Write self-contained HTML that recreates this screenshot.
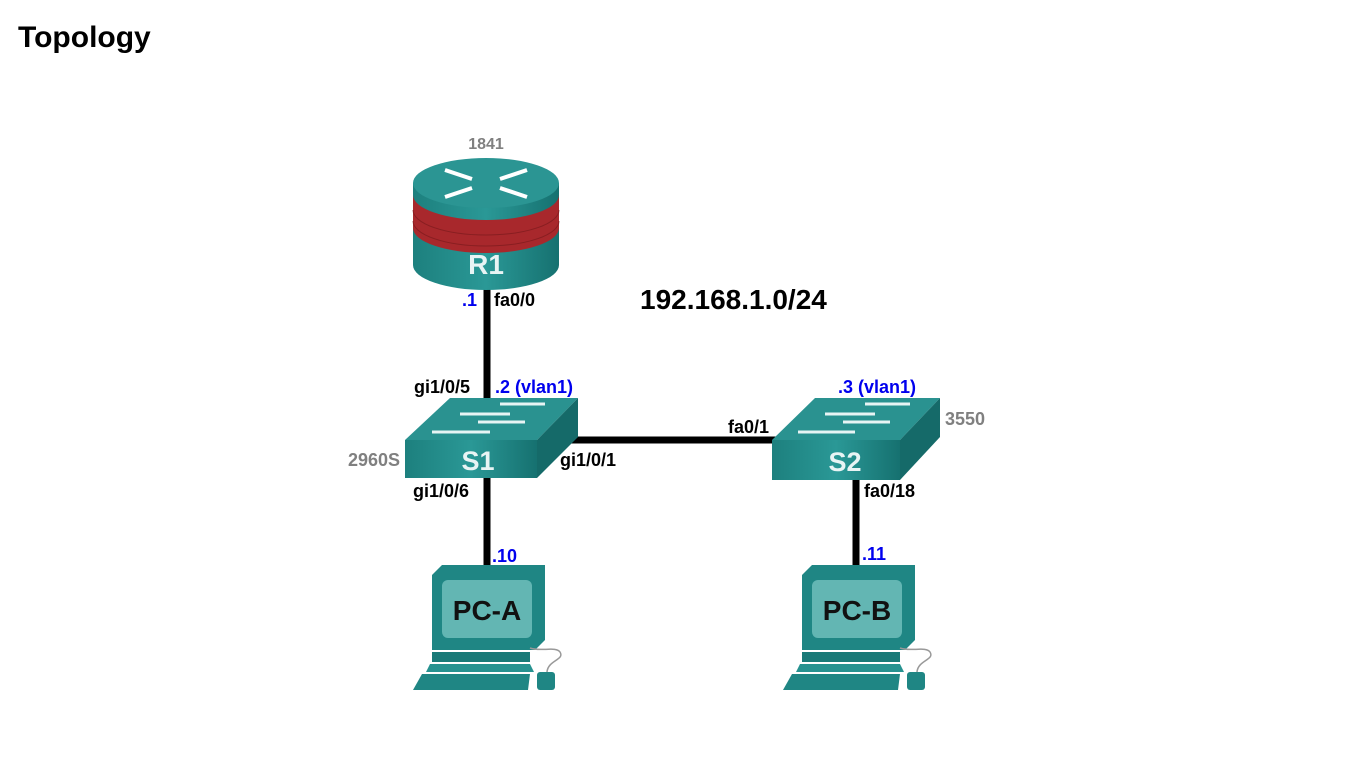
<!DOCTYPE html>
<html><head><meta charset="utf-8"><style>
body{margin:0;background:#fff;width:1359px;height:761px;overflow:hidden}
svg{position:absolute;left:0;top:0}
</style></head><body>
<svg width="1359" height="761" viewBox="0 0 1359 761" font-family="Liberation Sans, sans-serif" font-weight="bold">
<defs>
<linearGradient id="fg" x1="0" y1="0" x2="1" y2="0"><stop offset="0" stop-color="#1d807e"/><stop offset="0.5" stop-color="#2a9896"/><stop offset="1" stop-color="#167170"/></linearGradient>
</defs>
<text x="18" y="47" font-size="30" fill="#000">Topology</text>
<g stroke="#000" stroke-width="7">
<line x1="487" y1="285" x2="487" y2="405"/>
<line x1="487" y1="470" x2="487" y2="568"/>
<line x1="560" y1="440" x2="780" y2="440"/>
<line x1="856" y1="475" x2="856" y2="568"/>
</g>
<path d="M413 183 V265 A73 25 0 0 0 559 265 V183 Z" fill="url(#fg)"/>
<path d="M413 195 V228 A73 25 0 0 0 559 228 V195 A73 25 0 0 1 413 195Z" fill="#a8282c"/>
<g stroke="#7a1a1c" stroke-width="1" opacity="0.7">
<path d="M413 210 A73 25 0 0 0 559 210 M413 221 A73 25 0 0 0 559 221" fill="none"/>
</g>
<ellipse cx="486" cy="183" rx="73" ry="25" fill="#2b9593"/>
<g stroke="#fff" stroke-width="4" fill="#fff">
<line x1="445" y1="170" x2="472" y2="179"/><line x1="527" y1="170" x2="500" y2="179"/>
<line x1="445" y1="197" x2="472" y2="188"/><line x1="527" y1="197" x2="500" y2="188"/>
</g>
<text x="486" y="274" font-size="28" fill="#e8f4f4" text-anchor="middle">R1</text>
<text x="486" y="149" font-size="16" fill="#808080" text-anchor="middle">1841</text>
<polygon points="405,440 450,398 578,398 537,440" fill="#2a9290"/>
<polygon points="537,440 578,398 578,437 537,478" fill="#156a69"/>
<rect x="405" y="440" width="132" height="38" fill="url(#fg)"/>
<g stroke="#e8f4f4" stroke-width="3"><line x1="500" y1="404" x2="545" y2="404"/><line x1="460" y1="414" x2="510" y2="414"/><line x1="478" y1="422" x2="525" y2="422"/><line x1="432" y1="432" x2="490" y2="432"/></g>
<text x="478" y="470" font-size="27" fill="#e8f4f4" text-anchor="middle">S1</text>
<polygon points="772,440 815,398 940,398 900,440" fill="#2a9290"/>
<polygon points="900,440 940,398 940,437 900,480" fill="#156a69"/>
<rect x="772" y="440" width="128" height="40" fill="url(#fg)"/>
<g stroke="#e8f4f4" stroke-width="3"><line x1="865" y1="404" x2="910" y2="404"/><line x1="825" y1="414" x2="875" y2="414"/><line x1="843" y1="422" x2="890" y2="422"/><line x1="798" y1="432" x2="855" y2="432"/></g>
<text x="845" y="471" font-size="27" fill="#e8f4f4" text-anchor="middle">S2</text>
<g id="pc">
<polygon points="432,575 442,565 545,565 545,640 535,650 432,650" fill="#1f8684"/>
<rect x="442" y="580" width="90" height="58" rx="6" fill="#63b6b3"/>
<polygon points="432,652 530,652 530,662 432,662" fill="#1a7a78"/>
<polygon points="430,664 530,664 534,672 426,672" fill="#279290"/>
<polygon points="422,674 530,674 528,690 413,690" fill="#1f8684"/>
<rect x="537" y="672" width="18" height="18" rx="3" fill="#1f8684"/>
<path d="M547 672 C548 660 565 660 560 652 C556 646 540 652 530 648" fill="none" stroke="#999" stroke-width="1.5"/>
</g>
<text x="487" y="620" font-size="28" fill="#111" text-anchor="middle">PC-A</text>
<use href="#pc" transform="translate(370,0)"/>
<text x="857" y="620" font-size="28" fill="#111" text-anchor="middle">PC-B</text>
<g font-size="18">
<text x="477" y="306" fill="#0000ee" text-anchor="end">.1</text>
<text x="494" y="306" fill="#000">fa0/0</text>
<text x="640" y="309" font-size="28" fill="#000">192.168.1.0/24</text>
<text x="414" y="393" fill="#000">gi1/0/5</text>
<text x="495" y="393" fill="#0000ee">.2 (vlan1)</text>
<text x="838" y="393" fill="#0000ee">.3 (vlan1)</text>
<text x="945" y="425" fill="#808080">3550</text>
<text x="728" y="433" fill="#000">fa0/1</text>
<text x="348" y="466" fill="#808080">2960S</text>
<text x="560" y="466" fill="#000">gi1/0/1</text>
<text x="413" y="497" fill="#000">gi1/0/6</text>
<text x="864" y="497" fill="#000">fa0/18</text>
<text x="492" y="562" fill="#0000ee">.10</text>
<text x="862" y="560" fill="#0000ee">.11</text>
</g>
</svg>
</body></html>
